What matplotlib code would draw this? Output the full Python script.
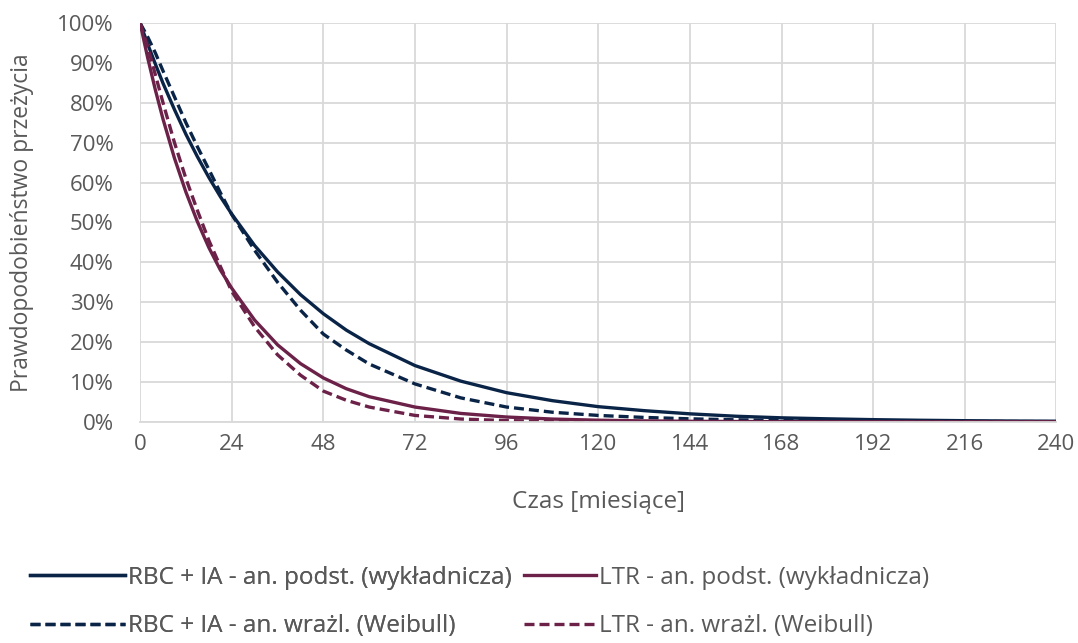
import matplotlib
matplotlib.use("Agg")
import matplotlib.pyplot as plt
from matplotlib.ticker import MultipleLocator, PercentFormatter

# months
czas = [0, 2, 4, 6, 9, 12, 15, 18, 21, 24, 30, 36, 42, 48, 54, 60, 72, 84, 96,
        108, 120, 132, 144, 156, 168, 180, 192, 204, 216, 228, 240]

# survival probability
rbc_wykl = [1.000, 0.947, 0.897, 0.849, 0.783, 0.721, 0.665, 0.613, 0.565, 0.521,
            0.442, 0.376, 0.319, 0.271, 0.230, 0.196, 0.141, 0.102, 0.073,
            0.053, 0.038, 0.028, 0.020, 0.014, 0.010, 0.0075, 0.0054, 0.0039,
            0.0028, 0.0020, 0.0015]
rbc_weib = [1.000, 0.965, 0.925, 0.880, 0.815, 0.750, 0.690, 0.633, 0.575, 0.520,
            0.430, 0.350, 0.280, 0.220, 0.180, 0.145, 0.095, 0.060, 0.037,
            0.024, 0.016, 0.011, 0.0075, 0.005, 0.0035, 0.0024, 0.0017, 0.0012,
            0.0008, 0.0006, 0.0004]
ltr_wykl = [1.000, 0.912, 0.832, 0.759, 0.661, 0.576, 0.502, 0.437, 0.381, 0.335,
            0.255, 0.193, 0.146, 0.110, 0.083, 0.063, 0.037, 0.021, 0.012,
            0.0069, 0.004, 0.0023, 0.0013, 0.0008, 0.0004, 0.0003, 0.0002, 0.0001,
            0.0, 0.0, 0.0]
ltr_weib = [1.000, 0.940, 0.870, 0.800, 0.700, 0.610, 0.530, 0.455, 0.390, 0.327,
            0.238, 0.168, 0.117, 0.077, 0.054, 0.037, 0.016, 0.007, 0.003,
            0.0012, 0.0005, 0.0002, 0.0001, 0.0, 0.0, 0.0, 0.0, 0.0,
            0.0, 0.0, 0.0]

etykiety = ["RBC + IA - an. podst. (wykładnicza)",
            "RBC + IA - an. wrażl. (Weibull)",
            "LTR - an. podst. (wykładnicza)",
            "LTR - an. wrażl. (Weibull)"]

navy = "#0A2447"
maroon = "#6B2148"
grey_txt = "#595959"

plt.rcParams['font.family'] = ['Open Sans', 'DejaVu Sans']

fig = plt.figure(figsize=(10.78, 6.43), dpi=100)
ax = fig.add_axes([0.130, 0.344, 0.850, 0.620])

lw = 2.4
dash = (0, (3.0, 1.5))
l1, = ax.plot(czas, rbc_wykl, color=navy, lw=lw)
l2, = ax.plot(czas, rbc_weib, color=navy, lw=lw, ls=dash)
l3, = ax.plot(czas, ltr_wykl, color=maroon, lw=lw)
l4, = ax.plot(czas, ltr_weib, color=maroon, lw=lw, ls=dash)

ax.set_xlim(0, 240)
ax.set_ylim(0, 1)
ax.xaxis.set_major_locator(MultipleLocator(24))
ax.yaxis.set_major_locator(MultipleLocator(0.1))
ax.yaxis.set_major_formatter(PercentFormatter(1.0, decimals=0))
ax.grid(True, color="#D9D9D9", lw=1.3)
ax.set_axisbelow(True)
for s in ["top", "right", "left"]:
    ax.spines[s].set_visible(False)
ax.spines["bottom"].set_color("#D9D9D9")
ax.spines["bottom"].set_linewidth(1.3)
ax.tick_params(length=0, labelsize=16, labelcolor=grey_txt)
ax.tick_params(axis="y", pad=19)
ax.tick_params(axis="x", pad=9)

ax.set_xlabel("Czas [miesiące]", fontsize=17.5, color=grey_txt)
ax.xaxis.set_label_coords(0.5, -0.172)
ax.set_ylabel("Prawdopodobieństwo przeżycia", fontsize=16.5, color=grey_txt)
ax.yaxis.set_label_coords(-0.116, 0.5)

common = dict(loc="upper left", frameon=False, fontsize=17.5, handletextpad=0.12,
              labelspacing=1.0, borderaxespad=0, borderpad=0, labelcolor=grey_txt)
leg1 = fig.legend([l1, l2], etykiety[:2], bbox_to_anchor=(0.028, 0.12),
                  handlelength=3.9, **common)
fig.add_artist(leg1)
fig.legend([l3, l4], etykiety[2:], bbox_to_anchor=(0.486, 0.12),
           handlelength=2.95, **common)

fig.savefig("out.png", dpi=100)
